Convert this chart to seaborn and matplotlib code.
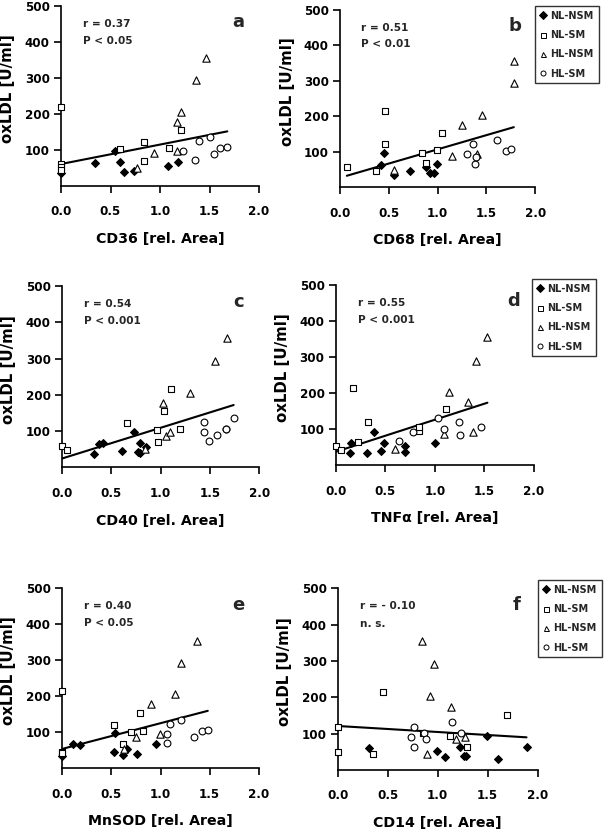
import numpy as np
import pandas as pd
import matplotlib
matplotlib.use("Agg")
import matplotlib.pyplot as plt
import seaborn as sns
from matplotlib.lines import Line2D

sns.set_theme(style="ticks")
plt.rcParams["font.family"] = ["DejaVu Sans"]
plt.rcParams["font.weight"] = "bold"
plt.rcParams["axes.labelweight"] = "bold"

groups = ["NL-NSM", "NL-SM", "HL-NSM", "HL-SM"]

# ---- panel a: CD36 ----
a_nlnsm_x = [0, 0.34, 0.545, 0.60, 0.64, 0.74, 1.08, 1.185]
a_nlnsm_y = [37, 65, 98, 68, 40, 43, 56, 68]
a_nlsm_x = [0, 0, 0, 0, 0.60, 0.84, 0.84, 1.09, 1.21]
a_nlsm_y = [219, 60, 54, 44, 103, 122, 69, 105, 156]
a_hlnsm_x = [0.77, 0.94, 1.175, 1.175, 1.21, 1.36, 1.46]
a_hlnsm_y = [49, 91, 98, 179, 206, 294, 356]
a_hlsm_x = [1.235, 1.35, 1.39, 1.505, 1.55, 1.61, 1.68]
a_hlsm_y = [97, 72, 125, 135, 89, 105, 108]

# ---- panel b: CD68 ----
b_nlnsm_x = [0.42, 0.45, 0.55, 0.72, 0.88, 0.92, 0.96, 0.99]
b_nlnsm_y = [64, 98, 34, 45, 56, 39, 39, 65]
b_nlsm_x = [0.07, 0.37, 0.46, 0.46, 0.84, 0.88, 0.99, 1.04]
b_nlsm_y = [58, 46, 215, 122, 98, 68, 105, 154]
b_hlnsm_x = [0.55, 1.15, 1.25, 1.40, 1.45, 1.78, 1.78]
b_hlnsm_y = [48, 89, 177, 93, 205, 295, 356]
b_hlsm_x = [1.30, 1.36, 1.38, 1.39, 1.61, 1.70, 1.75]
b_hlsm_y = [93, 122, 67, 86, 133, 102, 108]

# ---- panel c: CD40 ----
c_nlnsm_x = [0.32, 0.38, 0.42, 0.61, 0.73, 0.77, 0.79, 0.79, 0.85]
c_nlnsm_y = [37, 64, 68, 45, 98, 43, 68, 40, 57]
c_nlsm_x = [0.0, 0.05, 0.66, 0.96, 0.97, 1.03, 1.10, 1.20]
c_nlsm_y = [59, 47, 121, 102, 69, 155, 216, 105]
c_hlnsm_x = [0.84, 1.02, 1.05, 1.09, 1.30, 1.55, 1.67]
c_hlnsm_y = [51, 178, 87, 97, 206, 293, 356]
c_hlsm_x = [1.44, 1.44, 1.49, 1.57, 1.66, 1.66, 1.74]
c_hlsm_y = [124, 97, 72, 88, 107, 105, 137]

# ---- panel d: TNFa ----
d_nlnsm_x = [0.14, 0.15, 0.32, 0.39, 0.46, 0.49, 0.70, 0.70, 1.0]
d_nlnsm_y = [33, 61, 35, 93, 41, 63, 54, 38, 63]
d_nlsm_x = [0.0, 0.05, 0.17, 0.22, 0.33, 0.84, 0.84, 1.11]
d_nlsm_y = [54, 42, 214, 66, 120, 96, 105, 155]
d_hlnsm_x = [0.60, 1.09, 1.14, 1.33, 1.38, 1.41, 1.53]
d_hlnsm_y = [45, 87, 204, 176, 93, 290, 355]
d_hlsm_x = [0.64, 0.78, 1.03, 1.09, 1.24, 1.25, 1.47]
d_hlsm_y = [67, 92, 130, 102, 120, 85, 107]

# ---- panel e: MnSOD ----
e_nlnsm_x = [0, 0.11, 0.18, 0.53, 0.54, 0.62, 0.66, 0.76, 0.95]
e_nlnsm_y = [35, 67, 64, 44, 97, 38, 55, 41, 67]
e_nlsm_x = [0, 0, 0, 0.53, 0.62, 0.70, 0.79, 0.82]
e_nlsm_y = [216, 46, 42, 119, 67, 100, 154, 103]
e_hlnsm_x = [0.63, 0.75, 0.90, 0.99, 1.15, 1.21, 1.37]
e_hlnsm_y = [54, 87, 179, 96, 206, 293, 355]
e_hlsm_x = [1.07, 1.07, 1.10, 1.21, 1.34, 1.42, 1.48]
e_hlsm_y = [71, 94, 124, 135, 88, 104, 106]

# ---- panel f: CD14 ----
f_nlnsm_x = [0.31, 0.995, 1.07, 1.225, 1.26, 1.28, 1.495, 1.60, 1.89]
f_nlnsm_y = [61, 52, 35, 63, 39, 39, 94, 30, 63]
f_nlsm_x = [0, 0, 0.35, 0.455, 0.85, 1.12, 1.29, 1.695]
f_nlsm_y = [118, 50, 43, 216, 101, 94, 63, 152]
f_hlnsm_x = [0.84, 0.96, 0.92, 0.89, 1.13, 1.18, 1.27]
f_hlnsm_y = [356, 292, 204, 43, 173, 85, 92]
f_hlsm_x = [0.76, 0.73, 0.76, 0.86, 0.88, 1.14, 1.23]
f_hlsm_y = [119, 90, 64, 102, 85, 132, 101]

x_labels = ["CD36 [rel. Area]", "CD68 [rel. Area]", "CD40 [rel. Area]",
            "TNF\u03b1 [rel. Area]", "MnSOD [rel. Area]", "CD14 [rel. Area]"]
r_texts = ["r = 0.37", "r = 0.51", "r = 0.54", "r = 0.55", "r = 0.40", "r = - 0.10"]
p_texts = ["P < 0.05", "P < 0.01", "P < 0.001", "P < 0.001", "P < 0.05", "n. s."]
letters = ["a", "b", "c", "d", "e", "f"]
x_ticks = [0.0, 0.5, 1.0, 1.5, 2.0]
y_ticks = [100, 200, 300, 400, 500]

panels = [
    [(a_nlnsm_x, a_nlnsm_y), (a_nlsm_x, a_nlsm_y), (a_hlnsm_x, a_hlnsm_y), (a_hlsm_x, a_hlsm_y)],
    [(b_nlnsm_x, b_nlnsm_y), (b_nlsm_x, b_nlsm_y), (b_hlnsm_x, b_hlnsm_y), (b_hlsm_x, b_hlsm_y)],
    [(c_nlnsm_x, c_nlnsm_y), (c_nlsm_x, c_nlsm_y), (c_hlnsm_x, c_hlnsm_y), (c_hlsm_x, c_hlsm_y)],
    [(d_nlnsm_x, d_nlnsm_y), (d_nlsm_x, d_nlsm_y), (d_hlnsm_x, d_hlnsm_y), (d_hlsm_x, d_hlsm_y)],
    [(e_nlnsm_x, e_nlnsm_y), (e_nlsm_x, e_nlsm_y), (e_hlnsm_x, e_hlnsm_y), (e_hlsm_x, e_hlsm_y)],
    [(f_nlnsm_x, f_nlnsm_y), (f_nlsm_x, f_nlsm_y), (f_hlnsm_x, f_hlnsm_y), (f_hlsm_x, f_hlsm_y)],
]

styles = {
    "NL-NSM": dict(marker="D", color="black", s=16),
    "NL-SM": dict(marker="s", color="white", s=22),
    "HL-NSM": dict(marker="^", color="white", s=28),
    "HL-SM": dict(marker="o", color="white", s=24),
}

W, H = 609, 836
rects_px = [
    (61, 6, 259, 186),
    (340, 10, 535.3, 187.3),
    (62, 286, 259.3, 467.3),
    (335.7, 285, 534, 465.3),
    (62, 588.3, 259, 768.3),
    (338, 588.3, 537.5, 770),
]
legend_px = {1: (535, 6), 3: (532, 279), 5: (538, 580)}

fig = plt.figure(figsize=(W / 100, H / 100), dpi=100)
fig.patch.set_facecolor("white")

for i, pdata in enumerate(panels):
    l, t, r, b = rects_px[i]
    ax = fig.add_axes([l / W, 1 - b / H, (r - l) / W, (b - t) / H])
    ax.set_facecolor("white")
    frames = []
    for g, (xs, ys) in zip(groups, pdata):
        df = pd.DataFrame({"x": xs, "y": ys, "group": g})
        frames.append(df)
        st = styles[g]
        sns.scatterplot(data=df, x="x", y="y", marker=st["marker"], color=st["color"],
                        s=st["s"], edgecolor="black", linewidth=0.8, ax=ax,
                        legend=False, clip_on=False, zorder=3)
    alldf = pd.concat(frames, ignore_index=True)
    sns.regplot(data=alldf, x="x", y="y", scatter=False, ci=None, truncate=True,
                color="black", line_kws={"linewidth": 1.5, "zorder": 2}, ax=ax)
    ax.set_xlim(0, 2.0)
    ax.set_ylim(0, 500)
    ax.set_xticks(x_ticks)
    ax.set_xticklabels([f"{v:.1f}" for v in x_ticks])
    ax.set_yticks(y_ticks)
    ax.set_yticklabels([str(v) for v in y_ticks])
    for sp in ["top", "right"]:
        ax.spines[sp].set_visible(False)
    for sp in ["left", "bottom"]:
        ax.spines[sp].set_linewidth(1.2)
        ax.spines[sp].set_color("black")
    ax.tick_params(axis="x", direction="out", length=5, width=1.2, pad=9,
                   labelsize=8.6, colors="black")
    ax.tick_params(axis="y", direction="out", length=5, width=1.2, pad=3,
                   labelsize=8.6, colors="black")
    for lab in ax.get_xticklabels() + ax.get_yticklabels():
        lab.set_fontweight("bold")
    ax.set_xlabel(x_labels[i], fontsize=10.2, fontweight="bold", color="black")
    ax.set_ylabel("oxLDL [U/ml]", fontsize=10.8, fontweight="bold", color="black")
    ax.xaxis.set_label_coords(0.5, -0.255)
    ax.yaxis.set_label_coords(-0.232, 0.54)
    ax.text(0.22, 450, r_texts[i], fontsize=7.6, fontweight="bold", va="center", ha="left")
    ax.text(0.22, 403, p_texts[i], fontsize=7.6, fontweight="bold", va="center", ha="left")
    ax.text(1.79, 455, letters[i], fontsize=13, fontweight="bold", va="center", ha="center")
    ax.grid(False)

    if i in legend_px:
        lx, ly = legend_px[i]
        handles = [Line2D([], [], linestyle="none", marker=styles[g]["marker"],
                          markerfacecolor=styles[g]["color"], markeredgecolor="black",
                          markeredgewidth=0.7, markersize=3.6) for g in groups]
        leg = fig.legend(handles, groups, loc="upper left",
                         bbox_to_anchor=(lx / W, 1 - ly / H),
                         frameon=True, fancybox=False, edgecolor="black",
                         prop={"size": 7, "weight": "bold"}, handlelength=0.7,
                         handletextpad=0.4, labelspacing=0.95, borderpad=0.5,
                         borderaxespad=0)
        leg.get_frame().set_linewidth(1.0)

fig.savefig("out.png", dpi=100, facecolor="white")
